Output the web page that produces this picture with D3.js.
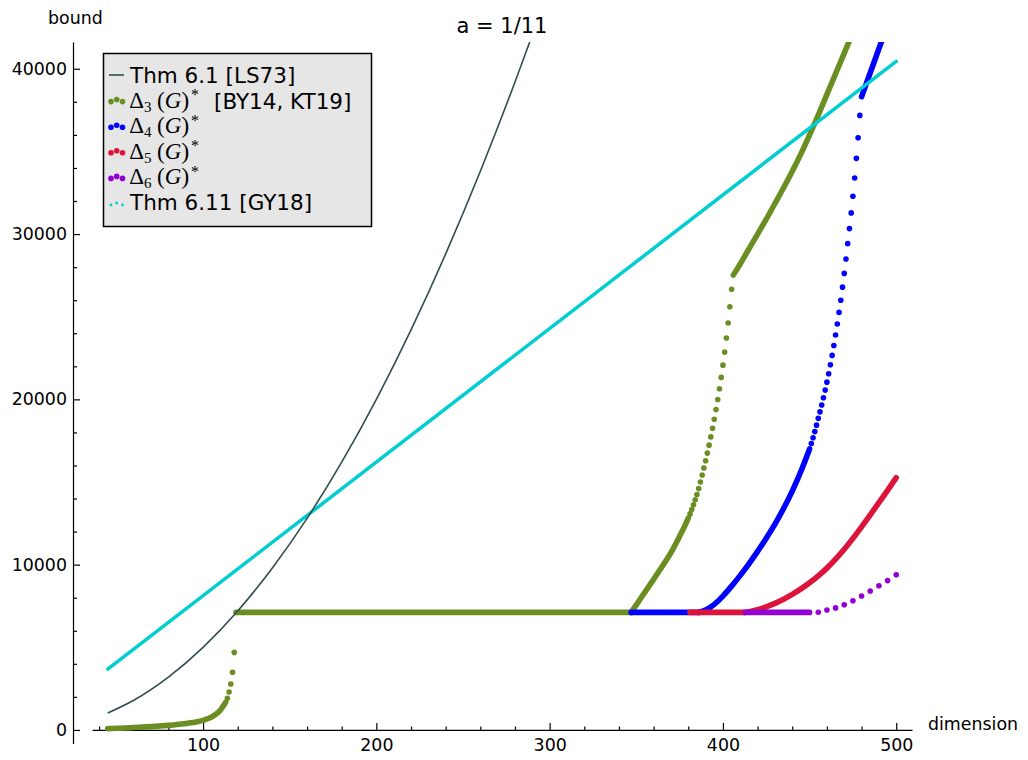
<!DOCTYPE html>
<html>
<head>
<meta charset="utf-8">
<script src="https://cdn.jsdelivr.net/npm/d3@7"></script>
<style>
body { margin: 0; background: #fff; }
svg text { font-family: "DejaVu Sans", sans-serif; }
</style>
</head>
<body>
<div id="chart"></div>
<script>
// axis ticks
var xTicks = [100, 200, 300, 400, 500]
var xMinorTicks = [40, 60, 80, 120, 140, 160, 180, 220, 240, 260, 280, 320, 340, 360, 380, 420, 440, 460, 480]
var yTicks = [0, 10000, 20000, 30000, 40000]
var yMinorTicks = [2000, 4000, 6000, 8000, 12000, 14000, 16000, 18000, 22000, 24000, 26000, 28000, 32000, 34000, 36000, 38000]

// Thm 6.1 [LS73] (line)
var thm61 = [[45, 1030], [60, 1800], [80, 3200], [100, 5000], [120, 7200], [140, 9800], [160, 12800], [180, 16200], [200, 20000], [220, 24200], [240, 28800], [260, 33800], [280, 39200], [290, 42050]]
// Thm 6.11 [GY18]
var thm611 = [[45, 3680], [500, 40450]]

// Delta_k(G)^* : runs = stretches where the points are packed so tight they merge, dots = points that stand apart
var delta3Runs = [
	[[45, 80], [50, 100], [55, 120], [60, 145], [65, 170], [70, 200], [75, 235], [80, 275], [85, 325], [90, 390], [95, 470], [100, 580], [103, 690], [106, 850], [108, 1000], [110, 1210], [111, 1350], [112, 1500], [113, 1670]],
	[[119, 7110], [347, 7110]],
	[[347, 7110], [350, 7570], [355, 8340], [360, 9110], [365, 9900], [370, 10730], [375, 11720], [378, 12350], [380, 12820]],
	[[406, 27520], [410, 28200], [415, 29100], [420, 30000], [425, 30900], [430, 31850], [435, 32800], [440, 33800], [445, 34850], [450, 36000], [455, 37200], [460, 38450], [465, 39700], [470, 40950], [475, 42200]]
]
var delta3Dots = [[114, 1920], [115, 2290], [116, 2780], [117, 3490], [118, 4690],
	[381, 13070], [382, 13340], [383, 13620], [384, 13920], [385, 14240], [386, 14600], [387, 15000], [388, 15420], [389, 15850], [390, 16290],
	[391, 16750], [392, 17230], [393, 17730], [394, 18250], [395, 18800], [396, 19380], [397, 19990], [398, 20640], [399, 21330], [400, 22070],
	[401, 22860], [402, 23710], [403, 24620], [404, 25600], [405, 26660]]

var delta4Runs = [
	[[347, 7110], [386, 7110]],
	[[386, 7110], [390, 7250], [395, 7600], [400, 8100], [405, 8700], [410, 9350], [415, 10050], [420, 10800], [425, 11600], [430, 12450], [435, 13400], [440, 14450], [445, 15650], [450, 17000]],
	[[480, 38310], [481, 38600], [485, 39760], [490, 41210], [493, 42080]]
]
var delta4Dots = [[451, 17330], [452, 17680], [453, 18050], [454, 18440], [455, 18850],
	[456, 19245], [457, 19660], [458, 20100], [459, 20560], [460, 21040], [461, 21550], [462, 22090], [463, 22660], [464, 23260], [465, 23890],
	[466, 24560], [467, 25260], [468, 26000], [469, 26790], [470, 27620], [471, 28490], [472, 29420], [473, 30330], [474, 31280], [475, 32290],
	[476, 33390], [477, 34580], [478, 35830], [479, 37180]]

var delta5Runs = [
	[[381, 7110], [412, 7110]],
	[[412, 7110], [416, 7170], [420, 7280], [425, 7450], [430, 7660], [435, 7910], [440, 8200], [445, 8530], [450, 8900], [455, 9320], [460, 9790], [465, 10330], [470, 10930], [475, 11590], [480, 12290], [485, 13010], [490, 13750], [495, 14500], [500, 15260]]
]
var delta5Dots = []

var delta6Runs = [
	[[413, 7110], [450, 7110]]
]
var delta6Dots = [[455, 7120], [460, 7257], [465, 7384], [470, 7577], [475, 7813], [480, 8104], [485, 8406], [490, 8721], [495, 9036], [500, 9393]]

var series = [
	{k: "3", color: "#6b8e23", runs: delta3Runs, dots: delta3Dots, note: " [BY14, KT19]"},
	{k: "4", color: "#0000ff", runs: delta4Runs, dots: delta4Dots, note: ""},
	{k: "5", color: "#dc143c", runs: delta5Runs, dots: delta5Dots, note: ""},
	{k: "6", color: "#9400d3", runs: delta6Runs, dots: delta6Dots, note: ""}
]

var width = 1028, height = 760, dotR = 2.8

var svg = d3.select("#chart")
	.append("svg")
	.attr("width", width)
	.attr("height", height)

var x = d3.scaleLinear().domain([35.9, 509.1]).range([92, 912])
var y = d3.scaleLinear().domain([-820, 41620]).range([743.5, 42])

svg.append("clipPath").attr("id", "plotclip")
	.append("rect")
	.attr("x", 92).attr("y", 42).attr("width", 820).attr("height", 701.5)

// axes
svg.append("g")
	.attr("transform", "translate(0," + y(0) + ")")
	.call(d3.axisBottom(x).tickValues(xTicks).tickSizeInner(-7).tickSizeOuter(0).tickPadding(8.6))
svg.append("g")
	.attr("transform", "translate(0," + y(0) + ")")
	.call(d3.axisBottom(x).tickValues(xMinorTicks).tickSizeInner(-3.5).tickSizeOuter(0).tickFormat(""))
	.select(".domain").remove()

svg.append("g")
	.attr("transform", "translate(73,0)")
	.call(d3.axisLeft(y).tickValues(yTicks).tickSizeInner(-7).tickSizeOuter(0).tickPadding(6).tickFormat(d3.format("d")))
svg.append("g")
	.attr("transform", "translate(73,0)")
	.call(d3.axisLeft(y).tickValues(yMinorTicks).tickSizeInner(-4).tickSizeOuter(0).tickFormat(""))
	.select(".domain").remove()

svg.selectAll(".domain, .tick line").attr("stroke", "#000").attr("stroke-width", 1.2)
svg.selectAll(".tick text")
	.style("font-family", "DejaVu Sans")
	.style("font-size", "17.4px")
	.attr("fill", "#000")

svg.append("text").attr("x", 48).attr("y", 24).style("font-size", "17.4px").text("bound")
svg.append("text").attr("x", 928).attr("y", 729.5).style("font-size", "17.4px").text("dimension")
svg.append("text").attr("x", 502).attr("y", 33).attr("text-anchor", "middle").style("font-size", "21px").text("a = 1/11")

// data
var plot = svg.append("g").attr("clip-path", "url(#plotclip)")
var runLine = d3.line()
	.x(function(d) { return x(d[0]) })
	.y(function(d) { return y(d[1]) })
	.curve(d3.curveMonotoneX)

series.forEach(function(s) {
	plot.selectAll(null)
		.data(s.runs)
		.enter().append("path")
		.attr("d", runLine)
		.attr("fill", "none")
		.attr("stroke", s.color)
		.attr("stroke-width", dotR * 2)
		.attr("stroke-linecap", "round")
		.attr("stroke-linejoin", "round")
	plot.selectAll(null)
		.data(s.dots)
		.enter().append("circle")
		.attr("cx", function(d) { return x(d[0]) })
		.attr("cy", function(d) { return y(d[1]) })
		.attr("r", dotR)
		.attr("fill", s.color)
})

plot.append("path")
	.datum(thm611)
	.attr("d", d3.line().x(function(d) { return x(d[0]) }).y(function(d) { return y(d[1]) }))
	.attr("fill", "none")
	.attr("stroke", "#00ced1")
	.attr("stroke-width", 3.5)
	.attr("stroke-linecap", "round")

plot.append("path")
	.datum(thm61)
	.attr("d", runLine)
	.attr("fill", "none")
	.attr("stroke", "#2f4f4f")
	.attr("stroke-width", 1.6)

// legend
var legend = svg.append("g")
legend.append("rect")
	.attr("x", 103.5).attr("y", 53.5).attr("width", 268).attr("height", 173)
	.attr("fill", "#e6e6e6").attr("stroke", "#000").attr("stroke-width", 1.5)

var rowY = function(i) { return 75 + i * 25.6 }
var markOffsets = [1, -1, 1]
var markX = [111, 116.7, 122.5]

legend.append("line")
	.attr("x1", 109).attr("x2", 124).attr("y1", rowY(0)).attr("y2", rowY(0))
	.attr("stroke", "#2f4f4f").attr("stroke-width", 1.6)
legend.append("text").attr("x", 130).attr("y", rowY(0) + 8).style("font-size", "21.5px").text("Thm 6.1 [LS73]")

series.forEach(function(s, i) {
	var cy = rowY(i + 1)
	markX.forEach(function(mx, j) {
		legend.append("circle").attr("cx", mx).attr("cy", cy + markOffsets[j]).attr("r", dotR).attr("fill", s.color)
	})
	var t = legend.append("text")
		.attr("x", 129.3).attr("y", cy + 7)
		.style("font-family", "Liberation Serif")
		.style("font-size", "23px")
	t.append("tspan").text("\u0394")
	t.append("tspan").attr("dy", 4).style("font-size", "15px").text(s.k)
	t.append("tspan").attr("dy", -4).attr("dx", 5.5).text("(")
	t.append("tspan").style("font-style", "italic").text("G")
	t.append("tspan").text(")")
	t.append("tspan").attr("dy", -7.6).attr("dx", 2).style("font-size", "16px").text("*")
	if (s.note) {
		legend.append("text").attr("x", 214).attr("y", cy + 8).style("font-size", "21.5px").text(s.note)
	}
})

var cy6 = rowY(5)
markX.forEach(function(mx, j) {
	legend.append("circle").attr("cx", mx).attr("cy", cy6 + 1 + markOffsets[j]).attr("r", 1.4).attr("fill", "#00ced1")
})
legend.append("text").attr("x", 130).attr("y", cy6 + 7).style("font-size", "21.5px").text("Thm 6.11 [GY18]")
</script>
</body>
</html>
